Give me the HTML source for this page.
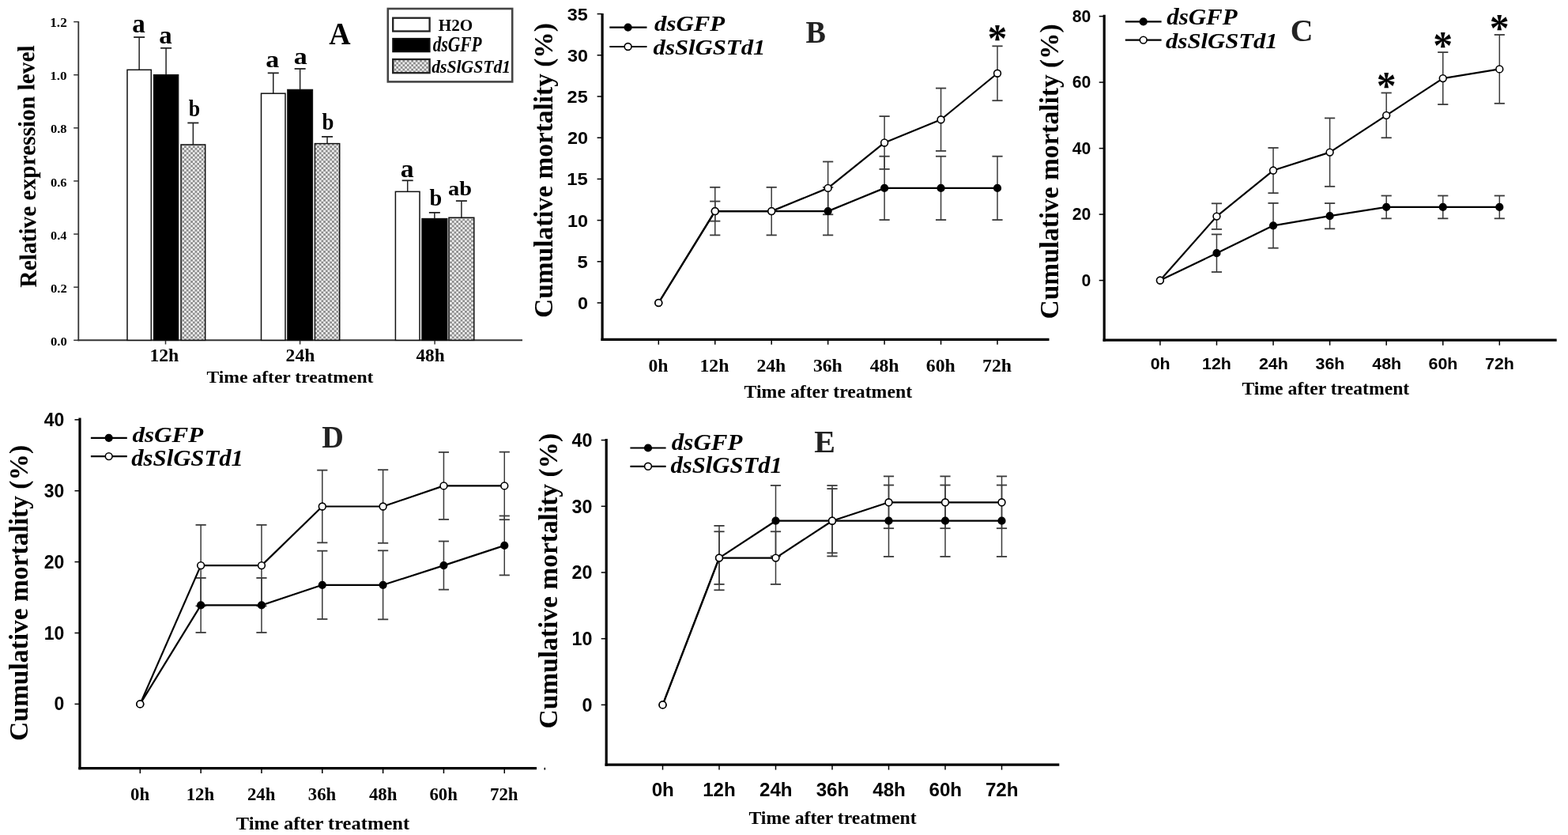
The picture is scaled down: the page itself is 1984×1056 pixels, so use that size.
<!DOCTYPE html>
<html><head><meta charset="utf-8"><style>
html,body{margin:0;padding:0;background:#fff;width:1984px;height:1056px;overflow:hidden;}
svg{display:block;}
</style></head><body>
<svg width="1984" height="1056" viewBox="0 0 1984 1056">
<defs><pattern id="chk" width="5.42" height="5.42" patternUnits="userSpaceOnUse"><rect width="5.42" height="5.42" fill="#ededed"/><rect width="2.71" height="2.71" fill="#8c8c8c"/><rect x="2.71" y="2.71" width="2.71" height="2.71" fill="#8c8c8c"/></pattern></defs>
<rect width="1984" height="1056" fill="#fff"/>
<line x1="99.30" y1="27.00" x2="99.30" y2="431.20" stroke="#333" stroke-width="1.8"/>
<line x1="98.40" y1="430.30" x2="661.00" y2="430.30" stroke="#333" stroke-width="2.0"/>
<line x1="93.20" y1="430.30" x2="99.30" y2="430.30" stroke="#333" stroke-width="1.5"/>
<text transform="translate(63.98 436.87) scale(1.0646 1)" font-family="&apos;Liberation Serif&apos;, serif" font-weight="bold" font-size="15.59" fill="#000">0.0</text>
<line x1="93.20" y1="363.18" x2="99.30" y2="363.18" stroke="#333" stroke-width="1.5"/>
<text transform="translate(63.97 369.75) scale(1.0692 1)" font-family="&apos;Liberation Serif&apos;, serif" font-weight="bold" font-size="15.59" fill="#000">0.2</text>
<line x1="93.20" y1="296.06" x2="99.30" y2="296.06" stroke="#333" stroke-width="1.5"/>
<text transform="translate(63.99 302.63) scale(1.0468 1)" font-family="&apos;Liberation Serif&apos;, serif" font-weight="bold" font-size="15.59" fill="#000">0.4</text>
<line x1="93.20" y1="228.94" x2="99.30" y2="228.94" stroke="#333" stroke-width="1.5"/>
<text transform="translate(63.98 235.51) scale(1.0579 1)" font-family="&apos;Liberation Serif&apos;, serif" font-weight="bold" font-size="15.59" fill="#000">0.6</text>
<line x1="93.20" y1="161.82" x2="99.30" y2="161.82" stroke="#333" stroke-width="1.5"/>
<text transform="translate(63.98 168.39) scale(1.0601 1)" font-family="&apos;Liberation Serif&apos;, serif" font-weight="bold" font-size="15.59" fill="#000">0.8</text>
<line x1="93.20" y1="94.70" x2="99.30" y2="94.70" stroke="#333" stroke-width="1.5"/>
<text transform="translate(63.22 101.27) scale(1.1046 1)" font-family="&apos;Liberation Serif&apos;, serif" font-weight="bold" font-size="15.59" fill="#000">1.0</text>
<line x1="93.20" y1="27.58" x2="99.30" y2="27.58" stroke="#333" stroke-width="1.5"/>
<text transform="translate(63.22 34.15) scale(1.1054 1)" font-family="&apos;Liberation Serif&apos;, serif" font-weight="bold" font-size="15.65" fill="#000">1.2</text>
<line x1="209.50" y1="430.30" x2="209.50" y2="435.50" stroke="#333" stroke-width="1.5"/>
<line x1="379.60" y1="430.30" x2="379.60" y2="435.50" stroke="#333" stroke-width="1.5"/>
<line x1="550.10" y1="430.30" x2="550.10" y2="435.50" stroke="#333" stroke-width="1.5"/>
<line x1="176.15" y1="47.04" x2="176.15" y2="88.32" stroke="#222" stroke-width="1.5"/>
<line x1="169.15" y1="47.04" x2="183.15" y2="47.04" stroke="#222" stroke-width="1.8"/>
<rect x="161.00" y="88.32" width="30.30" height="341.98" fill="#fff" stroke="#111" stroke-width="1.5"/>
<line x1="210.10" y1="60.80" x2="210.10" y2="94.70" stroke="#222" stroke-width="1.5"/>
<line x1="203.10" y1="60.80" x2="217.10" y2="60.80" stroke="#222" stroke-width="1.8"/>
<rect x="194.60" y="94.70" width="31.00" height="335.60" fill="#000" stroke="#111" stroke-width="1.5"/>
<line x1="244.35" y1="155.44" x2="244.35" y2="182.96" stroke="#222" stroke-width="1.5"/>
<line x1="237.35" y1="155.44" x2="251.35" y2="155.44" stroke="#222" stroke-width="1.8"/>
<rect x="229.00" y="182.96" width="30.70" height="247.34" fill="url(#chk)" stroke="#111" stroke-width="1.5"/>
<line x1="345.75" y1="92.35" x2="345.75" y2="118.19" stroke="#222" stroke-width="1.5"/>
<line x1="338.75" y1="92.35" x2="352.75" y2="92.35" stroke="#222" stroke-width="1.8"/>
<rect x="330.50" y="118.19" width="30.50" height="312.11" fill="#fff" stroke="#111" stroke-width="1.5"/>
<line x1="379.65" y1="86.98" x2="379.65" y2="113.49" stroke="#222" stroke-width="1.5"/>
<line x1="372.65" y1="86.98" x2="386.65" y2="86.98" stroke="#222" stroke-width="1.8"/>
<rect x="363.90" y="113.49" width="31.50" height="316.81" fill="#000" stroke="#111" stroke-width="1.5"/>
<line x1="414.05" y1="172.89" x2="414.05" y2="181.62" stroke="#222" stroke-width="1.5"/>
<line x1="407.05" y1="172.89" x2="421.05" y2="172.89" stroke="#222" stroke-width="1.8"/>
<rect x="398.40" y="181.62" width="31.30" height="248.68" fill="url(#chk)" stroke="#111" stroke-width="1.5"/>
<line x1="515.70" y1="228.27" x2="515.70" y2="242.36" stroke="#222" stroke-width="1.5"/>
<line x1="508.70" y1="228.27" x2="522.70" y2="228.27" stroke="#222" stroke-width="1.8"/>
<rect x="500.40" y="242.36" width="30.60" height="187.94" fill="#fff" stroke="#111" stroke-width="1.5"/>
<line x1="549.85" y1="268.88" x2="549.85" y2="276.60" stroke="#222" stroke-width="1.5"/>
<line x1="542.85" y1="268.88" x2="556.85" y2="268.88" stroke="#222" stroke-width="1.8"/>
<rect x="534.00" y="276.60" width="31.70" height="153.70" fill="#000" stroke="#111" stroke-width="1.5"/>
<line x1="583.90" y1="254.11" x2="583.90" y2="275.25" stroke="#222" stroke-width="1.5"/>
<line x1="576.90" y1="254.11" x2="590.90" y2="254.11" stroke="#222" stroke-width="1.8"/>
<rect x="568.00" y="275.25" width="31.80" height="155.05" fill="url(#chk)" stroke="#111" stroke-width="1.5"/>
<text transform="translate(167.22 41.06) scale(0.9643 1)" font-family="&apos;Liberation Serif&apos;, serif" font-weight="bold" font-size="34.38" fill="#000">a</text>
<text transform="translate(201.33 54.59) scale(1.0752 1)" font-family="&apos;Liberation Serif&apos;, serif" font-weight="bold" font-size="30.62" fill="#000">a</text>
<text transform="translate(238.78 146.51) scale(0.9074 1)" font-family="&apos;Liberation Serif&apos;, serif" font-weight="bold" font-size="28.51" fill="#000">b</text>
<text transform="translate(336.29 84.90) scale(1.1504 1)" font-family="&apos;Liberation Serif&apos;, serif" font-weight="bold" font-size="29.58" fill="#000">a</text>
<text transform="translate(371.79 81.40) scale(1.1504 1)" font-family="&apos;Liberation Serif&apos;, serif" font-weight="bold" font-size="29.58" fill="#000">a</text>
<text transform="translate(407.56 164.20) scale(0.8892 1)" font-family="&apos;Liberation Serif&apos;, serif" font-weight="bold" font-size="30.21" fill="#000">b</text>
<text transform="translate(506.70 223.68) scale(1.0471 1)" font-family="&apos;Liberation Serif&apos;, serif" font-weight="bold" font-size="32.29" fill="#000">a</text>
<text transform="translate(543.55 259.91) scale(0.9766 1)" font-family="&apos;Liberation Serif&apos;, serif" font-weight="bold" font-size="28.94" fill="#000">b</text>
<text transform="translate(567.08 246.66) scale(1.1708 1)" font-family="&apos;Liberation Serif&apos;, serif" font-weight="bold" font-size="24.26" fill="#000">ab</text>
<text transform="translate(416.32 55.60) scale(0.9614 1)" font-family="&apos;Liberation Serif&apos;, serif" font-weight="bold" font-size="39.39" fill="#000">A</text>
<text transform="translate(189.40 457.00) scale(1.0503 1)" font-family="&apos;Liberation Serif&apos;, serif" font-weight="bold" font-size="22.59" fill="#000">12h</text>
<text transform="translate(361.60 457.00) scale(1.0447 1)" font-family="&apos;Liberation Serif&apos;, serif" font-weight="bold" font-size="22.59" fill="#000">24h</text>
<text transform="translate(526.51 456.78) scale(1.0419 1)" font-family="&apos;Liberation Serif&apos;, serif" font-weight="bold" font-size="22.27" fill="#000">48h</text>
<text transform="translate(261.45 483.88) scale(1.0893 1)" font-family="&apos;Liberation Serif&apos;, serif" font-weight="bold" font-size="21.68" fill="#000">Time after treatment</text>
<text transform="translate(46.00 363.51) rotate(-90.55) scale(0.9637 1)" font-family="&apos;Liberation Serif&apos;, serif" font-weight="bold" font-size="30.50" fill="#000">Relative expression level</text>
<rect x="490.80" y="11.00" width="157.40" height="92.40" fill="#fff" stroke="#444" stroke-width="2.6"/>
<rect x="497.20" y="22.70" width="46.40" height="16.80" fill="#fff" stroke="#222" stroke-width="2.3"/>
<rect x="497.20" y="48.90" width="46.40" height="16.40" fill="#000" stroke="#111" stroke-width="2.0"/>
<rect x="497.20" y="75.00" width="46.40" height="17.20" fill="url(#chk)" stroke="#222" stroke-width="2.3"/>
<text transform="translate(554.83 38.79) scale(1.0090 1)" font-family="&apos;Liberation Serif&apos;, serif" font-weight="bold" font-size="20.97" fill="#000">H2O</text>
<text transform="translate(547.73 64.73) scale(0.7930 1)" font-family="&apos;Liberation Serif&apos;, serif" font-weight="bold" font-style="italic" font-size="26.95" fill="#000">dsGFP</text>
<text transform="translate(546.13 92.06) scale(0.8995 1)" font-family="&apos;Liberation Serif&apos;, serif" font-weight="bold" font-style="italic" font-size="24.11" fill="#000">dsSlGSTd1</text>
<line x1="762.10" y1="17.00" x2="762.10" y2="430.90" stroke="#000" stroke-width="3.2"/>
<line x1="760.50" y1="429.30" x2="1327.50" y2="429.30" stroke="#000" stroke-width="3.2"/>
<line x1="755.60" y1="383.00" x2="762.10" y2="383.00" stroke="#000" stroke-width="1.5"/>
<text transform="translate(730.93 391.03) scale(1.0700 1)" font-family="&apos;Liberation Sans&apos;, sans-serif" font-weight="bold" font-size="21.91" fill="#000">0</text>
<line x1="755.60" y1="330.80" x2="762.10" y2="330.80" stroke="#000" stroke-width="1.5"/>
<text transform="translate(730.46 338.83) scale(1.0700 1)" font-family="&apos;Liberation Sans&apos;, sans-serif" font-weight="bold" font-size="22.22" fill="#000">5</text>
<line x1="755.60" y1="278.60" x2="762.10" y2="278.60" stroke="#000" stroke-width="1.5"/>
<text transform="translate(717.92 286.63) scale(1.0700 1)" font-family="&apos;Liberation Sans&apos;, sans-serif" font-weight="bold" font-size="21.91" fill="#000">10</text>
<line x1="755.60" y1="226.40" x2="762.10" y2="226.40" stroke="#000" stroke-width="1.5"/>
<text transform="translate(717.26 234.43) scale(1.0700 1)" font-family="&apos;Liberation Sans&apos;, sans-serif" font-weight="bold" font-size="22.22" fill="#000">15</text>
<line x1="755.60" y1="174.20" x2="762.10" y2="174.20" stroke="#000" stroke-width="1.5"/>
<text transform="translate(717.92 182.23) scale(1.0700 1)" font-family="&apos;Liberation Sans&apos;, sans-serif" font-weight="bold" font-size="21.91" fill="#000">20</text>
<line x1="755.60" y1="122.00" x2="762.10" y2="122.00" stroke="#000" stroke-width="1.5"/>
<text transform="translate(717.62 130.03) scale(1.0700 1)" font-family="&apos;Liberation Sans&apos;, sans-serif" font-weight="bold" font-size="21.91" fill="#000">25</text>
<line x1="755.60" y1="69.80" x2="762.10" y2="69.80" stroke="#000" stroke-width="1.5"/>
<text transform="translate(718.01 77.78) scale(1.0700 1)" font-family="&apos;Liberation Sans&apos;, sans-serif" font-weight="bold" font-size="21.83" fill="#000">30</text>
<line x1="755.60" y1="17.60" x2="762.10" y2="17.60" stroke="#000" stroke-width="1.5"/>
<text transform="translate(717.71 25.58) scale(1.0700 1)" font-family="&apos;Liberation Sans&apos;, sans-serif" font-weight="bold" font-size="21.83" fill="#000">35</text>
<line x1="833.30" y1="429.30" x2="833.30" y2="435.80" stroke="#000" stroke-width="1.5"/>
<line x1="904.75" y1="429.30" x2="904.75" y2="435.80" stroke="#000" stroke-width="1.5"/>
<line x1="976.20" y1="429.30" x2="976.20" y2="435.80" stroke="#000" stroke-width="1.5"/>
<line x1="1047.65" y1="429.30" x2="1047.65" y2="435.80" stroke="#000" stroke-width="1.5"/>
<line x1="1119.10" y1="429.30" x2="1119.10" y2="435.80" stroke="#000" stroke-width="1.5"/>
<line x1="1190.55" y1="429.30" x2="1190.55" y2="435.80" stroke="#000" stroke-width="1.5"/>
<line x1="1262.00" y1="429.30" x2="1262.00" y2="435.80" stroke="#000" stroke-width="1.5"/>
<line x1="904.75" y1="254.59" x2="904.75" y2="279.64" stroke="#3a3a3a" stroke-width="1.5"/>
<line x1="898.15" y1="254.59" x2="911.35" y2="254.59" stroke="#3a3a3a" stroke-width="1.8"/>
<line x1="898.15" y1="279.64" x2="911.35" y2="279.64" stroke="#3a3a3a" stroke-width="1.8"/>
<line x1="976.20" y1="236.84" x2="976.20" y2="297.39" stroke="#3a3a3a" stroke-width="1.5"/>
<line x1="969.60" y1="236.84" x2="982.80" y2="236.84" stroke="#3a3a3a" stroke-width="1.8"/>
<line x1="969.60" y1="297.39" x2="982.80" y2="297.39" stroke="#3a3a3a" stroke-width="1.8"/>
<line x1="1047.65" y1="236.84" x2="1047.65" y2="297.39" stroke="#3a3a3a" stroke-width="1.5"/>
<line x1="1041.05" y1="236.84" x2="1054.25" y2="236.84" stroke="#3a3a3a" stroke-width="1.8"/>
<line x1="1041.05" y1="297.39" x2="1054.25" y2="297.39" stroke="#3a3a3a" stroke-width="1.8"/>
<line x1="1119.10" y1="197.69" x2="1119.10" y2="278.08" stroke="#3a3a3a" stroke-width="1.5"/>
<line x1="1112.50" y1="197.69" x2="1125.70" y2="197.69" stroke="#3a3a3a" stroke-width="1.8"/>
<line x1="1112.50" y1="278.08" x2="1125.70" y2="278.08" stroke="#3a3a3a" stroke-width="1.8"/>
<line x1="1190.55" y1="197.69" x2="1190.55" y2="278.08" stroke="#3a3a3a" stroke-width="1.5"/>
<line x1="1183.95" y1="197.69" x2="1197.15" y2="197.69" stroke="#3a3a3a" stroke-width="1.8"/>
<line x1="1183.95" y1="278.08" x2="1197.15" y2="278.08" stroke="#3a3a3a" stroke-width="1.8"/>
<line x1="1262.00" y1="197.69" x2="1262.00" y2="278.08" stroke="#3a3a3a" stroke-width="1.5"/>
<line x1="1255.40" y1="197.69" x2="1268.60" y2="197.69" stroke="#3a3a3a" stroke-width="1.8"/>
<line x1="1255.40" y1="278.08" x2="1268.60" y2="278.08" stroke="#3a3a3a" stroke-width="1.8"/>
<line x1="904.75" y1="236.84" x2="904.75" y2="297.39" stroke="#3a3a3a" stroke-width="1.5"/>
<line x1="898.15" y1="236.84" x2="911.35" y2="236.84" stroke="#3a3a3a" stroke-width="1.8"/>
<line x1="898.15" y1="297.39" x2="911.35" y2="297.39" stroke="#3a3a3a" stroke-width="1.8"/>
<line x1="1047.65" y1="204.48" x2="1047.65" y2="271.29" stroke="#3a3a3a" stroke-width="1.5"/>
<line x1="1041.05" y1="204.48" x2="1054.25" y2="204.48" stroke="#3a3a3a" stroke-width="1.8"/>
<line x1="1041.05" y1="271.29" x2="1054.25" y2="271.29" stroke="#3a3a3a" stroke-width="1.8"/>
<line x1="1119.10" y1="147.06" x2="1119.10" y2="213.87" stroke="#3a3a3a" stroke-width="1.5"/>
<line x1="1112.50" y1="147.06" x2="1125.70" y2="147.06" stroke="#3a3a3a" stroke-width="1.8"/>
<line x1="1112.50" y1="213.87" x2="1125.70" y2="213.87" stroke="#3a3a3a" stroke-width="1.8"/>
<line x1="1190.55" y1="111.56" x2="1190.55" y2="190.90" stroke="#3a3a3a" stroke-width="1.5"/>
<line x1="1183.95" y1="111.56" x2="1197.15" y2="111.56" stroke="#3a3a3a" stroke-width="1.8"/>
<line x1="1183.95" y1="190.90" x2="1197.15" y2="190.90" stroke="#3a3a3a" stroke-width="1.8"/>
<line x1="1262.00" y1="58.32" x2="1262.00" y2="127.22" stroke="#3a3a3a" stroke-width="1.5"/>
<line x1="1255.40" y1="58.32" x2="1268.60" y2="58.32" stroke="#3a3a3a" stroke-width="1.8"/>
<line x1="1255.40" y1="127.22" x2="1268.60" y2="127.22" stroke="#3a3a3a" stroke-width="1.8"/>
<polyline points="833.30,383.00 904.75,267.12 976.20,267.12 1047.65,267.12 1119.10,237.88 1190.55,237.88 1262.00,237.88" fill="none" stroke="#000" stroke-width="2.2" stroke-linejoin="round"/>
<polyline points="833.30,383.00 904.75,267.12 976.20,267.12 1047.65,237.88 1119.10,180.46 1190.55,151.23 1262.00,92.77" fill="none" stroke="#000" stroke-width="2.2" stroke-linejoin="round"/>
<circle cx="833.30" cy="383.00" r="4.40" fill="#000" stroke="#000" stroke-width="1.4"/>
<circle cx="904.75" cy="267.12" r="4.40" fill="#000" stroke="#000" stroke-width="1.4"/>
<circle cx="976.20" cy="267.12" r="4.40" fill="#000" stroke="#000" stroke-width="1.4"/>
<circle cx="1047.65" cy="267.12" r="4.40" fill="#000" stroke="#000" stroke-width="1.4"/>
<circle cx="1119.10" cy="237.88" r="4.40" fill="#000" stroke="#000" stroke-width="1.4"/>
<circle cx="1190.55" cy="237.88" r="4.40" fill="#000" stroke="#000" stroke-width="1.4"/>
<circle cx="1262.00" cy="237.88" r="4.40" fill="#000" stroke="#000" stroke-width="1.4"/>
<circle cx="833.30" cy="383.00" r="4.40" fill="#fff" stroke="#000" stroke-width="1.6"/>
<circle cx="904.75" cy="267.12" r="4.40" fill="#fff" stroke="#000" stroke-width="1.6"/>
<circle cx="976.20" cy="267.12" r="4.40" fill="#fff" stroke="#000" stroke-width="1.6"/>
<circle cx="1047.65" cy="237.88" r="4.40" fill="#fff" stroke="#000" stroke-width="1.6"/>
<circle cx="1119.10" cy="180.46" r="4.40" fill="#fff" stroke="#000" stroke-width="1.6"/>
<circle cx="1190.55" cy="151.23" r="4.40" fill="#fff" stroke="#000" stroke-width="1.6"/>
<circle cx="1262.00" cy="92.77" r="4.40" fill="#fff" stroke="#000" stroke-width="1.6"/>
<line x1="771.30" y1="34.60" x2="818.50" y2="34.60" stroke="#000" stroke-width="2.2"/>
<circle cx="794.60" cy="34.60" r="4.40" fill="#000" stroke="#000" stroke-width="1.4"/>
<line x1="771.30" y1="59.00" x2="818.50" y2="59.00" stroke="#000" stroke-width="2.2"/>
<circle cx="794.60" cy="59.00" r="4.40" fill="#fff" stroke="#000" stroke-width="1.6"/>
<text transform="translate(828.01 39.22) scale(1.1037 1)" font-family="&apos;Liberation Serif&apos;, serif" font-weight="bold" font-style="italic" font-size="27.94" fill="#000">dsGFP</text>
<text transform="translate(826.62 68.92) scale(1.0943 1)" font-family="&apos;Liberation Serif&apos;, serif" font-weight="bold" font-style="italic" font-size="28.09" fill="#000">dsSlGSTd1</text>
<text transform="translate(1019.43 54.00) scale(0.9306 1)" font-family="&apos;Liberation Serif&apos;, serif" font-weight="bold" font-size="40.91" fill="#222">B</text>
<text transform="translate(941.54 503.26) scale(1.0062 1)" font-family="&apos;Liberation Serif&apos;, serif" font-weight="bold" font-size="23.64" fill="#000">Time after treatment</text>
<text transform="translate(698.98 401.89) rotate(-90.0) scale(0.9684 1)" font-family="&apos;Liberation Serif&apos;, serif" font-weight="bold" font-size="34.50" fill="#000">Cumulative mortality (%)</text>
<text transform="translate(820.50 469.75) scale(1.0400 1)" font-family="&apos;Liberation Serif&apos;, serif" font-weight="bold" font-size="22.80" fill="#000">0h</text>
<text transform="translate(885.51 469.75) scale(1.0400 1)" font-family="&apos;Liberation Serif&apos;, serif" font-weight="bold" font-size="22.80" fill="#000">12h</text>
<text transform="translate(957.41 469.75) scale(1.0400 1)" font-family="&apos;Liberation Serif&apos;, serif" font-weight="bold" font-size="22.80" fill="#000">24h</text>
<text transform="translate(1028.92 469.75) scale(1.0400 1)" font-family="&apos;Liberation Serif&apos;, serif" font-weight="bold" font-size="22.80" fill="#000">36h</text>
<text transform="translate(1100.66 469.75) scale(1.0400 1)" font-family="&apos;Liberation Serif&apos;, serif" font-weight="bold" font-size="22.80" fill="#000">48h</text>
<text transform="translate(1171.85 469.75) scale(1.0400 1)" font-family="&apos;Liberation Serif&apos;, serif" font-weight="bold" font-size="22.80" fill="#000">60h</text>
<text transform="translate(1243.03 469.75) scale(1.0400 1)" font-family="&apos;Liberation Serif&apos;, serif" font-weight="bold" font-size="22.80" fill="#000">72h</text>
<text transform="translate(1249.55 64.77) scale(1.0000 1)" font-family="&apos;Liberation Serif&apos;, serif" font-weight="bold" font-size="49.80" fill="#000">*</text>
<line x1="1397.20" y1="18.80" x2="1397.20" y2="431.80" stroke="#000" stroke-width="3.2"/>
<line x1="1395.60" y1="430.20" x2="1969.70" y2="430.20" stroke="#000" stroke-width="3.2"/>
<line x1="1390.70" y1="354.60" x2="1397.20" y2="354.60" stroke="#000" stroke-width="1.5"/>
<text transform="translate(1368.58 361.89) scale(1.0000 1)" font-family="&apos;Liberation Sans&apos;, sans-serif" font-weight="bold" font-size="21.20" fill="#000">0</text>
<line x1="1390.70" y1="271.10" x2="1397.20" y2="271.10" stroke="#000" stroke-width="1.5"/>
<text transform="translate(1356.81 278.39) scale(1.0000 1)" font-family="&apos;Liberation Sans&apos;, sans-serif" font-weight="bold" font-size="21.20" fill="#000">20</text>
<line x1="1390.70" y1="187.60" x2="1397.20" y2="187.60" stroke="#000" stroke-width="1.5"/>
<text transform="translate(1356.81 194.89) scale(1.0000 1)" font-family="&apos;Liberation Sans&apos;, sans-serif" font-weight="bold" font-size="21.20" fill="#000">40</text>
<line x1="1390.70" y1="104.10" x2="1397.20" y2="104.10" stroke="#000" stroke-width="1.5"/>
<text transform="translate(1356.81 111.39) scale(1.0000 1)" font-family="&apos;Liberation Sans&apos;, sans-serif" font-weight="bold" font-size="21.20" fill="#000">60</text>
<line x1="1390.70" y1="20.60" x2="1397.20" y2="20.60" stroke="#000" stroke-width="1.5"/>
<text transform="translate(1356.81 27.89) scale(1.0000 1)" font-family="&apos;Liberation Sans&apos;, sans-serif" font-weight="bold" font-size="21.20" fill="#000">80</text>
<line x1="1467.90" y1="430.20" x2="1467.90" y2="436.70" stroke="#000" stroke-width="1.5"/>
<line x1="1539.47" y1="430.20" x2="1539.47" y2="436.70" stroke="#000" stroke-width="1.5"/>
<line x1="1611.04" y1="430.20" x2="1611.04" y2="436.70" stroke="#000" stroke-width="1.5"/>
<line x1="1682.61" y1="430.20" x2="1682.61" y2="436.70" stroke="#000" stroke-width="1.5"/>
<line x1="1754.18" y1="430.20" x2="1754.18" y2="436.70" stroke="#000" stroke-width="1.5"/>
<line x1="1825.75" y1="430.20" x2="1825.75" y2="436.70" stroke="#000" stroke-width="1.5"/>
<line x1="1897.32" y1="430.20" x2="1897.32" y2="436.70" stroke="#000" stroke-width="1.5"/>
<line x1="1539.47" y1="296.40" x2="1539.47" y2="344.00" stroke="#3a3a3a" stroke-width="1.5"/>
<line x1="1532.87" y1="296.40" x2="1546.07" y2="296.40" stroke="#3a3a3a" stroke-width="1.8"/>
<line x1="1532.87" y1="344.00" x2="1546.07" y2="344.00" stroke="#3a3a3a" stroke-width="1.8"/>
<line x1="1611.04" y1="256.91" x2="1611.04" y2="313.69" stroke="#3a3a3a" stroke-width="1.5"/>
<line x1="1604.44" y1="256.91" x2="1617.64" y2="256.91" stroke="#3a3a3a" stroke-width="1.8"/>
<line x1="1604.44" y1="313.69" x2="1617.64" y2="313.69" stroke="#3a3a3a" stroke-width="1.8"/>
<line x1="1682.61" y1="257.07" x2="1682.61" y2="289.30" stroke="#3a3a3a" stroke-width="1.5"/>
<line x1="1676.01" y1="257.07" x2="1689.21" y2="257.07" stroke="#3a3a3a" stroke-width="1.8"/>
<line x1="1676.01" y1="289.30" x2="1689.21" y2="289.30" stroke="#3a3a3a" stroke-width="1.8"/>
<line x1="1754.18" y1="247.51" x2="1754.18" y2="276.32" stroke="#3a3a3a" stroke-width="1.5"/>
<line x1="1747.58" y1="247.51" x2="1760.78" y2="247.51" stroke="#3a3a3a" stroke-width="1.8"/>
<line x1="1747.58" y1="276.32" x2="1760.78" y2="276.32" stroke="#3a3a3a" stroke-width="1.8"/>
<line x1="1825.75" y1="247.51" x2="1825.75" y2="276.32" stroke="#3a3a3a" stroke-width="1.5"/>
<line x1="1819.15" y1="247.51" x2="1832.35" y2="247.51" stroke="#3a3a3a" stroke-width="1.8"/>
<line x1="1819.15" y1="276.32" x2="1832.35" y2="276.32" stroke="#3a3a3a" stroke-width="1.8"/>
<line x1="1897.32" y1="247.51" x2="1897.32" y2="276.32" stroke="#3a3a3a" stroke-width="1.5"/>
<line x1="1890.72" y1="247.51" x2="1903.92" y2="247.51" stroke="#3a3a3a" stroke-width="1.8"/>
<line x1="1890.72" y1="276.32" x2="1903.92" y2="276.32" stroke="#3a3a3a" stroke-width="1.8"/>
<line x1="1539.47" y1="257.32" x2="1539.47" y2="289.89" stroke="#3a3a3a" stroke-width="1.5"/>
<line x1="1532.87" y1="257.32" x2="1546.07" y2="257.32" stroke="#3a3a3a" stroke-width="1.8"/>
<line x1="1532.87" y1="289.89" x2="1546.07" y2="289.89" stroke="#3a3a3a" stroke-width="1.8"/>
<line x1="1611.04" y1="186.97" x2="1611.04" y2="244.17" stroke="#3a3a3a" stroke-width="1.5"/>
<line x1="1604.44" y1="186.97" x2="1617.64" y2="186.97" stroke="#3a3a3a" stroke-width="1.8"/>
<line x1="1604.44" y1="244.17" x2="1617.64" y2="244.17" stroke="#3a3a3a" stroke-width="1.8"/>
<line x1="1682.61" y1="149.40" x2="1682.61" y2="235.82" stroke="#3a3a3a" stroke-width="1.5"/>
<line x1="1676.01" y1="149.40" x2="1689.21" y2="149.40" stroke="#3a3a3a" stroke-width="1.8"/>
<line x1="1676.01" y1="235.82" x2="1689.21" y2="235.82" stroke="#3a3a3a" stroke-width="1.8"/>
<line x1="1754.18" y1="117.46" x2="1754.18" y2="174.24" stroke="#3a3a3a" stroke-width="1.5"/>
<line x1="1747.58" y1="117.46" x2="1760.78" y2="117.46" stroke="#3a3a3a" stroke-width="1.8"/>
<line x1="1747.58" y1="174.24" x2="1760.78" y2="174.24" stroke="#3a3a3a" stroke-width="1.8"/>
<line x1="1825.75" y1="66.11" x2="1825.75" y2="132.07" stroke="#3a3a3a" stroke-width="1.5"/>
<line x1="1819.15" y1="66.11" x2="1832.35" y2="66.11" stroke="#3a3a3a" stroke-width="1.8"/>
<line x1="1819.15" y1="132.07" x2="1832.35" y2="132.07" stroke="#3a3a3a" stroke-width="1.8"/>
<line x1="1897.32" y1="43.98" x2="1897.32" y2="130.82" stroke="#3a3a3a" stroke-width="1.5"/>
<line x1="1890.72" y1="43.98" x2="1903.92" y2="43.98" stroke="#3a3a3a" stroke-width="1.8"/>
<line x1="1890.72" y1="130.82" x2="1903.92" y2="130.82" stroke="#3a3a3a" stroke-width="1.8"/>
<polyline points="1467.90,354.60 1539.47,320.20 1611.04,285.30 1682.61,273.19 1754.18,261.92 1825.75,261.92 1897.32,261.92" fill="none" stroke="#000" stroke-width="2.2" stroke-linejoin="round"/>
<polyline points="1467.90,354.60 1539.47,273.61 1611.04,215.57 1682.61,192.61 1754.18,145.85 1825.75,99.09 1897.32,87.40" fill="none" stroke="#000" stroke-width="2.2" stroke-linejoin="round"/>
<circle cx="1467.90" cy="354.60" r="4.40" fill="#000" stroke="#000" stroke-width="1.4"/>
<circle cx="1539.47" cy="320.20" r="4.40" fill="#000" stroke="#000" stroke-width="1.4"/>
<circle cx="1611.04" cy="285.30" r="4.40" fill="#000" stroke="#000" stroke-width="1.4"/>
<circle cx="1682.61" cy="273.19" r="4.40" fill="#000" stroke="#000" stroke-width="1.4"/>
<circle cx="1754.18" cy="261.92" r="4.40" fill="#000" stroke="#000" stroke-width="1.4"/>
<circle cx="1825.75" cy="261.92" r="4.40" fill="#000" stroke="#000" stroke-width="1.4"/>
<circle cx="1897.32" cy="261.92" r="4.40" fill="#000" stroke="#000" stroke-width="1.4"/>
<circle cx="1467.90" cy="354.60" r="4.40" fill="#fff" stroke="#000" stroke-width="1.6"/>
<circle cx="1539.47" cy="273.61" r="4.40" fill="#fff" stroke="#000" stroke-width="1.6"/>
<circle cx="1611.04" cy="215.57" r="4.40" fill="#fff" stroke="#000" stroke-width="1.6"/>
<circle cx="1682.61" cy="192.61" r="4.40" fill="#fff" stroke="#000" stroke-width="1.6"/>
<circle cx="1754.18" cy="145.85" r="4.40" fill="#fff" stroke="#000" stroke-width="1.6"/>
<circle cx="1825.75" cy="99.09" r="4.40" fill="#fff" stroke="#000" stroke-width="1.6"/>
<circle cx="1897.32" cy="87.40" r="4.40" fill="#fff" stroke="#000" stroke-width="1.6"/>
<line x1="1423.80" y1="27.40" x2="1469.60" y2="27.40" stroke="#000" stroke-width="2.2"/>
<circle cx="1446.70" cy="27.40" r="4.40" fill="#000" stroke="#000" stroke-width="1.4"/>
<line x1="1423.80" y1="50.60" x2="1469.60" y2="50.60" stroke="#000" stroke-width="2.2"/>
<circle cx="1446.70" cy="50.60" r="4.40" fill="#fff" stroke="#000" stroke-width="1.6"/>
<text transform="translate(1476.21 31.31) scale(1.0654 1)" font-family="&apos;Liberation Serif&apos;, serif" font-weight="bold" font-style="italic" font-size="29.08" fill="#000">dsGFP</text>
<text transform="translate(1475.12 60.72) scale(1.0818 1)" font-family="&apos;Liberation Serif&apos;, serif" font-weight="bold" font-style="italic" font-size="28.37" fill="#000">dsSlGSTd1</text>
<text transform="translate(1632.81 52.30) scale(0.9848 1)" font-family="&apos;Liberation Serif&apos;, serif" font-weight="bold" font-size="40.45" fill="#222">C</text>
<text transform="translate(1571.44 498.97) scale(1.0330 1)" font-family="&apos;Liberation Serif&apos;, serif" font-weight="bold" font-size="22.94" fill="#000">Time after treatment</text>
<text transform="translate(1339.18 403.39) rotate(-90.0) scale(0.9686 1)" font-family="&apos;Liberation Serif&apos;, serif" font-weight="bold" font-size="34.50" fill="#000">Cumulative mortality (%)</text>
<text transform="translate(1455.65 466.60) scale(1.0700 1)" font-family="&apos;Liberation Sans&apos;, sans-serif" font-weight="bold" font-size="20.00" fill="#000">0h</text>
<text transform="translate(1521.01 466.60) scale(1.0700 1)" font-family="&apos;Liberation Sans&apos;, sans-serif" font-weight="bold" font-size="20.00" fill="#000">12h</text>
<text transform="translate(1592.88 466.60) scale(1.0700 1)" font-family="&apos;Liberation Sans&apos;, sans-serif" font-weight="bold" font-size="20.00" fill="#000">24h</text>
<text transform="translate(1664.58 466.60) scale(1.0700 1)" font-family="&apos;Liberation Sans&apos;, sans-serif" font-weight="bold" font-size="20.00" fill="#000">36h</text>
<text transform="translate(1736.23 466.60) scale(1.0700 1)" font-family="&apos;Liberation Sans&apos;, sans-serif" font-weight="bold" font-size="20.00" fill="#000">48h</text>
<text transform="translate(1807.56 466.60) scale(1.0700 1)" font-family="&apos;Liberation Sans&apos;, sans-serif" font-weight="bold" font-size="20.00" fill="#000">60h</text>
<text transform="translate(1879.08 466.60) scale(1.0700 1)" font-family="&apos;Liberation Sans&apos;, sans-serif" font-weight="bold" font-size="20.00" fill="#000">72h</text>
<text transform="translate(1741.73 125.07) scale(1.0000 1)" font-family="&apos;Liberation Serif&apos;, serif" font-weight="bold" font-size="49.80" fill="#000">*</text>
<text transform="translate(1813.30 73.67) scale(1.0000 1)" font-family="&apos;Liberation Serif&apos;, serif" font-weight="bold" font-size="49.80" fill="#000">*</text>
<text transform="translate(1884.87 52.17) scale(1.0000 1)" font-family="&apos;Liberation Serif&apos;, serif" font-weight="bold" font-size="49.80" fill="#000">*</text>
<line x1="101.00" y1="528.50" x2="101.00" y2="973.20" stroke="#000" stroke-width="3.2"/>
<line x1="99.40" y1="971.60" x2="679.00" y2="971.60" stroke="#000" stroke-width="3.2"/>
<line x1="94.50" y1="890.40" x2="101.00" y2="890.40" stroke="#000" stroke-width="1.5"/>
<text transform="translate(68.55 898.40) scale(0.9300 1)" font-family="&apos;Liberation Sans&apos;, sans-serif" font-weight="bold" font-size="24.73" fill="#000">0</text>
<line x1="94.50" y1="800.50" x2="101.00" y2="800.50" stroke="#000" stroke-width="1.5"/>
<text transform="translate(55.79 808.50) scale(0.9300 1)" font-family="&apos;Liberation Sans&apos;, sans-serif" font-weight="bold" font-size="24.73" fill="#000">10</text>
<line x1="94.50" y1="710.60" x2="101.00" y2="710.60" stroke="#000" stroke-width="1.5"/>
<text transform="translate(55.79 718.60) scale(0.9300 1)" font-family="&apos;Liberation Sans&apos;, sans-serif" font-weight="bold" font-size="24.73" fill="#000">20</text>
<line x1="94.50" y1="620.70" x2="101.00" y2="620.70" stroke="#000" stroke-width="1.5"/>
<text transform="translate(55.87 628.64) scale(0.9300 1)" font-family="&apos;Liberation Sans&apos;, sans-serif" font-weight="bold" font-size="24.65" fill="#000">30</text>
<line x1="94.50" y1="530.80" x2="101.00" y2="530.80" stroke="#000" stroke-width="1.5"/>
<text transform="translate(55.79 538.80) scale(0.9300 1)" font-family="&apos;Liberation Sans&apos;, sans-serif" font-weight="bold" font-size="24.73" fill="#000">40</text>
<line x1="177.30" y1="971.60" x2="177.30" y2="978.10" stroke="#000" stroke-width="1.5"/>
<line x1="254.13" y1="971.60" x2="254.13" y2="978.10" stroke="#000" stroke-width="1.5"/>
<line x1="330.96" y1="971.60" x2="330.96" y2="978.10" stroke="#000" stroke-width="1.5"/>
<line x1="407.79" y1="971.60" x2="407.79" y2="978.10" stroke="#000" stroke-width="1.5"/>
<line x1="484.62" y1="971.60" x2="484.62" y2="978.10" stroke="#000" stroke-width="1.5"/>
<line x1="561.45" y1="971.60" x2="561.45" y2="978.10" stroke="#000" stroke-width="1.5"/>
<line x1="638.28" y1="971.60" x2="638.28" y2="978.10" stroke="#000" stroke-width="1.5"/>
<line x1="254.13" y1="730.92" x2="254.13" y2="799.96" stroke="#3a3a3a" stroke-width="1.5"/>
<line x1="247.53" y1="730.92" x2="260.73" y2="730.92" stroke="#3a3a3a" stroke-width="1.8"/>
<line x1="247.53" y1="799.96" x2="260.73" y2="799.96" stroke="#3a3a3a" stroke-width="1.8"/>
<line x1="330.96" y1="730.92" x2="330.96" y2="799.96" stroke="#3a3a3a" stroke-width="1.5"/>
<line x1="324.36" y1="730.92" x2="337.56" y2="730.92" stroke="#3a3a3a" stroke-width="1.8"/>
<line x1="324.36" y1="799.96" x2="337.56" y2="799.96" stroke="#3a3a3a" stroke-width="1.8"/>
<line x1="407.79" y1="696.67" x2="407.79" y2="782.97" stroke="#3a3a3a" stroke-width="1.5"/>
<line x1="401.19" y1="696.67" x2="414.39" y2="696.67" stroke="#3a3a3a" stroke-width="1.8"/>
<line x1="401.19" y1="782.97" x2="414.39" y2="782.97" stroke="#3a3a3a" stroke-width="1.8"/>
<line x1="484.62" y1="696.31" x2="484.62" y2="783.33" stroke="#3a3a3a" stroke-width="1.5"/>
<line x1="478.02" y1="696.31" x2="491.22" y2="696.31" stroke="#3a3a3a" stroke-width="1.8"/>
<line x1="478.02" y1="783.33" x2="491.22" y2="783.33" stroke="#3a3a3a" stroke-width="1.8"/>
<line x1="561.45" y1="684.53" x2="561.45" y2="745.66" stroke="#3a3a3a" stroke-width="1.5"/>
<line x1="554.85" y1="684.53" x2="568.05" y2="684.53" stroke="#3a3a3a" stroke-width="1.8"/>
<line x1="554.85" y1="745.66" x2="568.05" y2="745.66" stroke="#3a3a3a" stroke-width="1.8"/>
<line x1="638.28" y1="652.43" x2="638.28" y2="727.41" stroke="#3a3a3a" stroke-width="1.5"/>
<line x1="631.68" y1="652.43" x2="644.88" y2="652.43" stroke="#3a3a3a" stroke-width="1.8"/>
<line x1="631.68" y1="727.41" x2="644.88" y2="727.41" stroke="#3a3a3a" stroke-width="1.8"/>
<line x1="254.13" y1="663.85" x2="254.13" y2="766.34" stroke="#3a3a3a" stroke-width="1.5"/>
<line x1="247.53" y1="663.85" x2="260.73" y2="663.85" stroke="#3a3a3a" stroke-width="1.8"/>
<line x1="247.53" y1="766.34" x2="260.73" y2="766.34" stroke="#3a3a3a" stroke-width="1.8"/>
<line x1="330.96" y1="663.85" x2="330.96" y2="766.34" stroke="#3a3a3a" stroke-width="1.5"/>
<line x1="324.36" y1="663.85" x2="337.56" y2="663.85" stroke="#3a3a3a" stroke-width="1.8"/>
<line x1="324.36" y1="766.34" x2="337.56" y2="766.34" stroke="#3a3a3a" stroke-width="1.8"/>
<line x1="407.79" y1="594.63" x2="407.79" y2="686.33" stroke="#3a3a3a" stroke-width="1.5"/>
<line x1="401.19" y1="594.63" x2="414.39" y2="594.63" stroke="#3a3a3a" stroke-width="1.8"/>
<line x1="401.19" y1="686.33" x2="414.39" y2="686.33" stroke="#3a3a3a" stroke-width="1.8"/>
<line x1="484.62" y1="594.18" x2="484.62" y2="686.78" stroke="#3a3a3a" stroke-width="1.5"/>
<line x1="478.02" y1="594.18" x2="491.22" y2="594.18" stroke="#3a3a3a" stroke-width="1.8"/>
<line x1="478.02" y1="686.78" x2="491.22" y2="686.78" stroke="#3a3a3a" stroke-width="1.8"/>
<line x1="561.45" y1="571.88" x2="561.45" y2="656.93" stroke="#3a3a3a" stroke-width="1.5"/>
<line x1="554.85" y1="571.88" x2="568.05" y2="571.88" stroke="#3a3a3a" stroke-width="1.8"/>
<line x1="554.85" y1="656.93" x2="568.05" y2="656.93" stroke="#3a3a3a" stroke-width="1.8"/>
<line x1="638.28" y1="571.61" x2="638.28" y2="657.20" stroke="#3a3a3a" stroke-width="1.5"/>
<line x1="631.68" y1="571.61" x2="644.88" y2="571.61" stroke="#3a3a3a" stroke-width="1.8"/>
<line x1="631.68" y1="657.20" x2="644.88" y2="657.20" stroke="#3a3a3a" stroke-width="1.8"/>
<polyline points="177.30,890.40 254.13,765.44 330.96,765.44 407.79,739.82 484.62,739.82 561.45,715.10 638.28,689.92" fill="none" stroke="#000" stroke-width="2.2" stroke-linejoin="round"/>
<polyline points="177.30,890.40 254.13,715.10 330.96,715.10 407.79,640.48 484.62,640.48 561.45,614.41 638.28,614.41" fill="none" stroke="#000" stroke-width="2.2" stroke-linejoin="round"/>
<circle cx="177.30" cy="890.40" r="4.40" fill="#000" stroke="#000" stroke-width="1.4"/>
<circle cx="254.13" cy="765.44" r="4.40" fill="#000" stroke="#000" stroke-width="1.4"/>
<circle cx="330.96" cy="765.44" r="4.40" fill="#000" stroke="#000" stroke-width="1.4"/>
<circle cx="407.79" cy="739.82" r="4.40" fill="#000" stroke="#000" stroke-width="1.4"/>
<circle cx="484.62" cy="739.82" r="4.40" fill="#000" stroke="#000" stroke-width="1.4"/>
<circle cx="561.45" cy="715.10" r="4.40" fill="#000" stroke="#000" stroke-width="1.4"/>
<circle cx="638.28" cy="689.92" r="4.40" fill="#000" stroke="#000" stroke-width="1.4"/>
<circle cx="177.30" cy="890.40" r="4.40" fill="#fff" stroke="#000" stroke-width="1.6"/>
<circle cx="254.13" cy="715.10" r="4.40" fill="#fff" stroke="#000" stroke-width="1.6"/>
<circle cx="330.96" cy="715.10" r="4.40" fill="#fff" stroke="#000" stroke-width="1.6"/>
<circle cx="407.79" cy="640.48" r="4.40" fill="#fff" stroke="#000" stroke-width="1.6"/>
<circle cx="484.62" cy="640.48" r="4.40" fill="#fff" stroke="#000" stroke-width="1.6"/>
<circle cx="561.45" cy="614.41" r="4.40" fill="#fff" stroke="#000" stroke-width="1.6"/>
<circle cx="638.28" cy="614.41" r="4.40" fill="#fff" stroke="#000" stroke-width="1.6"/>
<line x1="114.90" y1="553.80" x2="160.80" y2="553.80" stroke="#000" stroke-width="2.2"/>
<circle cx="137.70" cy="553.80" r="4.40" fill="#000" stroke="#000" stroke-width="1.4"/>
<line x1="114.90" y1="577.10" x2="160.80" y2="577.10" stroke="#000" stroke-width="2.2"/>
<circle cx="137.70" cy="577.10" r="4.40" fill="#fff" stroke="#000" stroke-width="1.6"/>
<text transform="translate(167.41 559.22) scale(1.1124 1)" font-family="&apos;Liberation Serif&apos;, serif" font-weight="bold" font-style="italic" font-size="27.94" fill="#000">dsGFP</text>
<text transform="translate(166.22 589.01) scale(1.0681 1)" font-family="&apos;Liberation Serif&apos;, serif" font-weight="bold" font-style="italic" font-size="28.79" fill="#000">dsSlGSTd1</text>
<text transform="translate(407.13 566.20) scale(0.9765 1)" font-family="&apos;Liberation Serif&apos;, serif" font-weight="bold" font-size="39.09" fill="#222">D</text>
<text transform="translate(298.73 1048.67) scale(1.0446 1)" font-family="&apos;Liberation Serif&apos;, serif" font-weight="bold" font-size="23.50" fill="#000">Time after treatment</text>
<text transform="translate(34.98 936.89) rotate(-90.0) scale(0.9710 1)" font-family="&apos;Liberation Serif&apos;, serif" font-weight="bold" font-size="34.50" fill="#000">Cumulative mortality (%)</text>
<text transform="translate(164.99 1012.45) scale(1.0000 1)" font-family="&apos;Liberation Serif&apos;, serif" font-weight="bold" font-size="22.80" fill="#000">0h</text>
<text transform="translate(235.63 1012.45) scale(1.0000 1)" font-family="&apos;Liberation Serif&apos;, serif" font-weight="bold" font-size="22.80" fill="#000">12h</text>
<text transform="translate(312.89 1012.45) scale(1.0000 1)" font-family="&apos;Liberation Serif&apos;, serif" font-weight="bold" font-size="22.80" fill="#000">24h</text>
<text transform="translate(389.78 1012.45) scale(1.0000 1)" font-family="&apos;Liberation Serif&apos;, serif" font-weight="bold" font-size="22.80" fill="#000">36h</text>
<text transform="translate(466.89 1012.45) scale(1.0000 1)" font-family="&apos;Liberation Serif&apos;, serif" font-weight="bold" font-size="22.80" fill="#000">48h</text>
<text transform="translate(543.47 1012.45) scale(1.0000 1)" font-family="&apos;Liberation Serif&apos;, serif" font-weight="bold" font-size="22.80" fill="#000">60h</text>
<text transform="translate(620.04 1012.45) scale(1.0000 1)" font-family="&apos;Liberation Serif&apos;, serif" font-weight="bold" font-size="22.80" fill="#000">72h</text>
<ellipse cx="689.3" cy="972.2" rx="0.9" ry="1.6" fill="#111"/>
<line x1="767.20" y1="555.00" x2="767.20" y2="968.70" stroke="#000" stroke-width="3.2"/>
<line x1="765.60" y1="967.10" x2="1340.30" y2="967.10" stroke="#000" stroke-width="3.2"/>
<line x1="760.70" y1="891.40" x2="767.20" y2="891.40" stroke="#000" stroke-width="1.5"/>
<text transform="translate(736.39 899.72) scale(1.0000 1)" font-family="&apos;Liberation Sans&apos;, sans-serif" font-weight="bold" font-size="23.32" fill="#000">0</text>
<line x1="760.70" y1="807.70" x2="767.20" y2="807.70" stroke="#000" stroke-width="1.5"/>
<text transform="translate(723.45 816.02) scale(1.0000 1)" font-family="&apos;Liberation Sans&apos;, sans-serif" font-weight="bold" font-size="23.32" fill="#000">10</text>
<line x1="760.70" y1="724.00" x2="767.20" y2="724.00" stroke="#000" stroke-width="1.5"/>
<text transform="translate(723.45 732.32) scale(1.0000 1)" font-family="&apos;Liberation Sans&apos;, sans-serif" font-weight="bold" font-size="23.32" fill="#000">20</text>
<line x1="760.70" y1="640.30" x2="767.20" y2="640.30" stroke="#000" stroke-width="1.5"/>
<text transform="translate(723.53 648.56) scale(1.0000 1)" font-family="&apos;Liberation Sans&apos;, sans-serif" font-weight="bold" font-size="23.24" fill="#000">30</text>
<line x1="760.70" y1="556.60" x2="767.20" y2="556.60" stroke="#000" stroke-width="1.5"/>
<text transform="translate(723.45 564.92) scale(1.0000 1)" font-family="&apos;Liberation Sans&apos;, sans-serif" font-weight="bold" font-size="23.32" fill="#000">40</text>
<line x1="838.50" y1="967.10" x2="838.50" y2="973.60" stroke="#000" stroke-width="1.5"/>
<line x1="910.00" y1="967.10" x2="910.00" y2="973.60" stroke="#000" stroke-width="1.5"/>
<line x1="981.50" y1="967.10" x2="981.50" y2="973.60" stroke="#000" stroke-width="1.5"/>
<line x1="1053.00" y1="967.10" x2="1053.00" y2="973.60" stroke="#000" stroke-width="1.5"/>
<line x1="1124.50" y1="967.10" x2="1124.50" y2="973.60" stroke="#000" stroke-width="1.5"/>
<line x1="1196.00" y1="967.10" x2="1196.00" y2="973.60" stroke="#000" stroke-width="1.5"/>
<line x1="1267.50" y1="967.10" x2="1267.50" y2="973.60" stroke="#000" stroke-width="1.5"/>
<line x1="910.00" y1="664.91" x2="910.00" y2="746.26" stroke="#3a3a3a" stroke-width="1.5"/>
<line x1="903.40" y1="664.91" x2="916.60" y2="664.91" stroke="#3a3a3a" stroke-width="1.8"/>
<line x1="903.40" y1="746.26" x2="916.60" y2="746.26" stroke="#3a3a3a" stroke-width="1.8"/>
<line x1="981.50" y1="613.93" x2="981.50" y2="703.49" stroke="#3a3a3a" stroke-width="1.5"/>
<line x1="974.90" y1="613.93" x2="988.10" y2="613.93" stroke="#3a3a3a" stroke-width="1.8"/>
<line x1="974.90" y1="703.49" x2="988.10" y2="703.49" stroke="#3a3a3a" stroke-width="1.8"/>
<line x1="1053.00" y1="614.02" x2="1053.00" y2="703.41" stroke="#3a3a3a" stroke-width="1.5"/>
<line x1="1046.40" y1="614.02" x2="1059.60" y2="614.02" stroke="#3a3a3a" stroke-width="1.8"/>
<line x1="1046.40" y1="703.41" x2="1059.60" y2="703.41" stroke="#3a3a3a" stroke-width="1.8"/>
<line x1="1124.50" y1="613.52" x2="1124.50" y2="703.91" stroke="#3a3a3a" stroke-width="1.5"/>
<line x1="1117.90" y1="613.52" x2="1131.10" y2="613.52" stroke="#3a3a3a" stroke-width="1.8"/>
<line x1="1117.90" y1="703.91" x2="1131.10" y2="703.91" stroke="#3a3a3a" stroke-width="1.8"/>
<line x1="1196.00" y1="613.52" x2="1196.00" y2="703.91" stroke="#3a3a3a" stroke-width="1.5"/>
<line x1="1189.40" y1="613.52" x2="1202.60" y2="613.52" stroke="#3a3a3a" stroke-width="1.8"/>
<line x1="1189.40" y1="703.91" x2="1202.60" y2="703.91" stroke="#3a3a3a" stroke-width="1.8"/>
<line x1="1267.50" y1="613.52" x2="1267.50" y2="703.91" stroke="#3a3a3a" stroke-width="1.5"/>
<line x1="1260.90" y1="613.52" x2="1274.10" y2="613.52" stroke="#3a3a3a" stroke-width="1.8"/>
<line x1="1260.90" y1="703.91" x2="1274.10" y2="703.91" stroke="#3a3a3a" stroke-width="1.8"/>
<line x1="910.00" y1="672.27" x2="910.00" y2="738.90" stroke="#3a3a3a" stroke-width="1.5"/>
<line x1="903.40" y1="672.27" x2="916.60" y2="672.27" stroke="#3a3a3a" stroke-width="1.8"/>
<line x1="903.40" y1="738.90" x2="916.60" y2="738.90" stroke="#3a3a3a" stroke-width="1.8"/>
<line x1="981.50" y1="672.27" x2="981.50" y2="738.90" stroke="#3a3a3a" stroke-width="1.5"/>
<line x1="974.90" y1="672.27" x2="988.10" y2="672.27" stroke="#3a3a3a" stroke-width="1.8"/>
<line x1="974.90" y1="738.90" x2="988.10" y2="738.90" stroke="#3a3a3a" stroke-width="1.8"/>
<line x1="1053.00" y1="618.12" x2="1053.00" y2="699.31" stroke="#3a3a3a" stroke-width="1.5"/>
<line x1="1046.40" y1="618.12" x2="1059.60" y2="618.12" stroke="#3a3a3a" stroke-width="1.8"/>
<line x1="1046.40" y1="699.31" x2="1059.60" y2="699.31" stroke="#3a3a3a" stroke-width="1.8"/>
<line x1="1124.50" y1="602.38" x2="1124.50" y2="668.17" stroke="#3a3a3a" stroke-width="1.5"/>
<line x1="1117.90" y1="602.38" x2="1131.10" y2="602.38" stroke="#3a3a3a" stroke-width="1.8"/>
<line x1="1117.90" y1="668.17" x2="1131.10" y2="668.17" stroke="#3a3a3a" stroke-width="1.8"/>
<line x1="1196.00" y1="602.38" x2="1196.00" y2="668.17" stroke="#3a3a3a" stroke-width="1.5"/>
<line x1="1189.40" y1="602.38" x2="1202.60" y2="602.38" stroke="#3a3a3a" stroke-width="1.8"/>
<line x1="1189.40" y1="668.17" x2="1202.60" y2="668.17" stroke="#3a3a3a" stroke-width="1.8"/>
<line x1="1267.50" y1="602.38" x2="1267.50" y2="668.17" stroke="#3a3a3a" stroke-width="1.5"/>
<line x1="1260.90" y1="602.38" x2="1274.10" y2="602.38" stroke="#3a3a3a" stroke-width="1.8"/>
<line x1="1260.90" y1="668.17" x2="1274.10" y2="668.17" stroke="#3a3a3a" stroke-width="1.8"/>
<polyline points="838.50,891.40 910.00,705.59 981.50,658.71 1053.00,658.71 1124.50,658.71 1196.00,658.71 1267.50,658.71" fill="none" stroke="#000" stroke-width="2.2" stroke-linejoin="round"/>
<polyline points="838.50,891.40 910.00,705.59 981.50,705.59 1053.00,658.71 1124.50,635.28 1196.00,635.28 1267.50,635.28" fill="none" stroke="#000" stroke-width="2.2" stroke-linejoin="round"/>
<circle cx="838.50" cy="891.40" r="4.40" fill="#000" stroke="#000" stroke-width="1.4"/>
<circle cx="910.00" cy="705.59" r="4.40" fill="#000" stroke="#000" stroke-width="1.4"/>
<circle cx="981.50" cy="658.71" r="4.40" fill="#000" stroke="#000" stroke-width="1.4"/>
<circle cx="1053.00" cy="658.71" r="4.40" fill="#000" stroke="#000" stroke-width="1.4"/>
<circle cx="1124.50" cy="658.71" r="4.40" fill="#000" stroke="#000" stroke-width="1.4"/>
<circle cx="1196.00" cy="658.71" r="4.40" fill="#000" stroke="#000" stroke-width="1.4"/>
<circle cx="1267.50" cy="658.71" r="4.40" fill="#000" stroke="#000" stroke-width="1.4"/>
<circle cx="838.50" cy="891.40" r="4.40" fill="#fff" stroke="#000" stroke-width="1.6"/>
<circle cx="910.00" cy="705.59" r="4.40" fill="#fff" stroke="#000" stroke-width="1.6"/>
<circle cx="981.50" cy="705.59" r="4.40" fill="#fff" stroke="#000" stroke-width="1.6"/>
<circle cx="1053.00" cy="658.71" r="4.40" fill="#fff" stroke="#000" stroke-width="1.6"/>
<circle cx="1124.50" cy="635.28" r="4.40" fill="#fff" stroke="#000" stroke-width="1.6"/>
<circle cx="1196.00" cy="635.28" r="4.40" fill="#fff" stroke="#000" stroke-width="1.6"/>
<circle cx="1267.50" cy="635.28" r="4.40" fill="#fff" stroke="#000" stroke-width="1.6"/>
<line x1="797.40" y1="566.50" x2="842.60" y2="566.50" stroke="#000" stroke-width="2.2"/>
<circle cx="820.00" cy="566.50" r="4.40" fill="#000" stroke="#000" stroke-width="1.4"/>
<line x1="797.40" y1="589.80" x2="842.60" y2="589.80" stroke="#000" stroke-width="2.2"/>
<circle cx="820.00" cy="589.80" r="4.40" fill="#fff" stroke="#000" stroke-width="1.6"/>
<text transform="translate(849.81 568.91) scale(1.0718 1)" font-family="&apos;Liberation Serif&apos;, serif" font-weight="bold" font-style="italic" font-size="28.94" fill="#000">dsGFP</text>
<text transform="translate(848.52 598.31) scale(1.0703 1)" font-family="&apos;Liberation Serif&apos;, serif" font-weight="bold" font-style="italic" font-size="28.65" fill="#000">dsSlGSTd1</text>
<text transform="translate(1030.30 571.50) scale(0.9887 1)" font-family="&apos;Liberation Serif&apos;, serif" font-weight="bold" font-size="40.46" fill="#222">E</text>
<text transform="translate(947.44 1041.97) scale(1.0220 1)" font-family="&apos;Liberation Serif&apos;, serif" font-weight="bold" font-size="23.22" fill="#000">Time after treatment</text>
<text transform="translate(704.98 921.49) rotate(-90.0) scale(0.9707 1)" font-family="&apos;Liberation Serif&apos;, serif" font-weight="bold" font-size="34.50" fill="#000">Cumulative mortality (%)</text>
<text transform="translate(824.67 1006.97) scale(1.0500 1)" font-family="&apos;Liberation Sans&apos;, sans-serif" font-weight="bold" font-size="23.00" fill="#000">0h</text>
<text transform="translate(889.17 1006.97) scale(1.0500 1)" font-family="&apos;Liberation Sans&apos;, sans-serif" font-weight="bold" font-size="23.00" fill="#000">12h</text>
<text transform="translate(961.00 1006.97) scale(1.0500 1)" font-family="&apos;Liberation Sans&apos;, sans-serif" font-weight="bold" font-size="23.00" fill="#000">24h</text>
<text transform="translate(1032.65 1006.97) scale(1.0500 1)" font-family="&apos;Liberation Sans&apos;, sans-serif" font-weight="bold" font-size="23.00" fill="#000">36h</text>
<text transform="translate(1104.24 1006.97) scale(1.0500 1)" font-family="&apos;Liberation Sans&apos;, sans-serif" font-weight="bold" font-size="23.00" fill="#000">48h</text>
<text transform="translate(1175.47 1006.97) scale(1.0500 1)" font-family="&apos;Liberation Sans&apos;, sans-serif" font-weight="bold" font-size="23.00" fill="#000">60h</text>
<text transform="translate(1246.91 1006.97) scale(1.0500 1)" font-family="&apos;Liberation Sans&apos;, sans-serif" font-weight="bold" font-size="23.00" fill="#000">72h</text>
</svg></body></html>
